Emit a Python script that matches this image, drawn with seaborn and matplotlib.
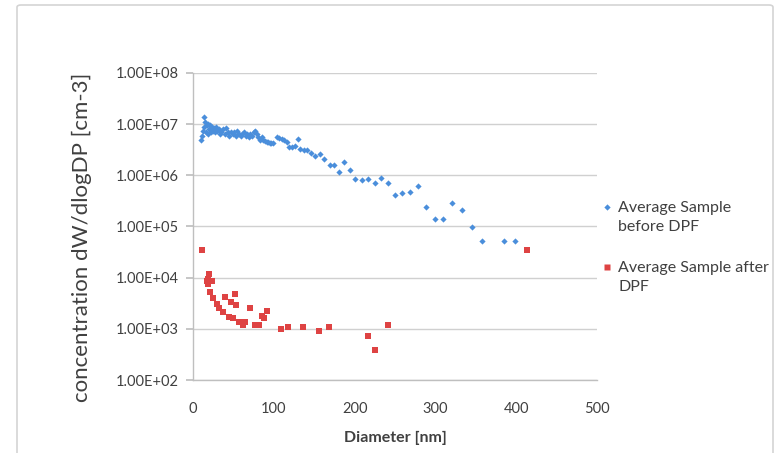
import numpy as np
import pandas as pd
import matplotlib
matplotlib.use("Agg")
import matplotlib.pyplot as plt
import seaborn as sns
from matplotlib.patches import FancyBboxPatch
from matplotlib.ticker import FuncFormatter, FixedLocator
from matplotlib.lines import Line2D

before_x = [10, 11, 12, 13, 14, 15, 16, 17, 18, 19, 20, 21, 22, 23, 24, 25, 26, 27, 28, 30,
            32, 33, 35, 37, 39, 41, 43, 45, 47, 49, 51, 53, 55, 57, 59, 61, 63, 65, 67, 69,
            71, 73, 75, 77, 79, 81, 83, 85, 87, 89, 91, 93, 95, 97, 99, 104, 107, 110, 113, 116,
            119, 122, 126, 130, 133, 137, 141, 146, 151, 157, 162, 169, 174, 181, 187, 194, 201, 209, 217, 225,
            233, 241, 250, 259, 269, 278, 288, 299, 310, 321, 333, 345, 358, 385, 399]
before_y = [5.0e6, 6.0e6, 7.5e6, 9.0e6, 1.4e7, 1.1e7, 7.0e6, 9.5e6, 6.5e6, 1.0e7, 8.0e6, 9.5e6, 7.0e6, 8.5e6, 9.0e6, 7.5e6, 8.5e6, 7.0e6, 9.0e6, 7.5e6,
            8.0e6, 6.5e6, 7.0e6, 8.0e6, 6.5e6, 8.5e6, 7.0e6, 6.0e6, 7.0e6, 6.5e6, 7.0e6, 6.0e6, 7.5e6, 6.5e6, 6.0e6, 6.5e6, 7.0e6, 6.0e6, 6.5e6, 5.5e6,
            6.5e6, 6.0e6, 7.0e6, 7.5e6, 6.5e6, 5.5e6, 5.0e6, 5.5e6, 4.8e6, 4.6e6, 4.5e6, 4.4e6, 4.3e6, 4.2e6, 4.2e6, 5.6e6, 5.3e6, 5.1e6, 4.8e6, 4.5e6,
            3.6e6, 3.5e6, 3.7e6, 5.2e6, 3.2e6, 3.1e6, 3.1e6, 2.7e6, 2.4e6, 2.6e6, 2.1e6, 1.6e6, 1.6e6, 1.16e6, 1.8e6, 1.3e6, 8.5e5, 8.0e5, 8.6e5, 7.2e5,
            9.0e5, 7.0e5, 4.2e5, 4.5e5, 4.7e5, 6.2e5, 2.4e5, 1.4e5, 1.4e5, 2.9e5, 2.1e5, 9.9e4, 5.1e4, 5.3e4, 5.3e4]

after_x = [11.5, 17, 18, 19, 20, 21, 23.5, 24.3, 29.3, 32.6, 37.5, 40, 44, 46.6, 49, 51.5, 53.6, 57.3,
           61.5, 64.4, 70.5, 76.7, 81.7, 85, 88.3, 91.2, 109, 118, 136.5, 156, 168, 217, 225, 241, 413.7]
after_y = [3.4e4, 8.7e3, 7.6e3, 9.5e3, 1.17e4, 5.3e3, 8.7e3, 4.0e3, 3.0e3, 2.55e3, 2.1e3, 4.1e3, 1.73e3, 3.3e3, 1.6e3, 4.7e3, 2.9e3, 1.38e3,
           1.2e3, 1.36e3, 2.57e3, 1.2e3, 1.18e3, 1.8e3, 1.6e3, 2.25e3, 9.9e2, 1.07e3, 1.07e3, 8.9e2, 1.07e3, 7.1e2, 3.9e2, 1.2e3, 3.5e4]

series_names = ["Average Sample\nbefore DPF", "Average Sample after\nDPF"]
x_ticks = [0, 100, 200, 300, 400, 500]
y_ticks = [1e2, 1e3, 1e4, 1e5, 1e6, 1e7, 1e8]

df = pd.concat([
    pd.DataFrame({"Diameter": before_x, "conc": before_y, "series": series_names[0]}),
    pd.DataFrame({"Diameter": after_x, "conc": after_y, "series": series_names[1]}),
])

sns.set_theme(style="white")
plt.rcParams["font.family"] = ["Lato", "DejaVu Sans"]

blue = "#4a8edb"
red = "#de4343"
text_col = "#404040"
grid_col = "#d0d0d0"

W, H = 783, 453
fig = plt.figure(figsize=(W / 100, H / 100), dpi=100)
ax = fig.add_axes([193 / W, 1 - 380 / H, 404 / W, 307 / H])

sns.scatterplot(data=df[df.series == series_names[0]], x="Diameter", y="conc", ax=ax,
                color=blue, marker="D", s=10, linewidth=0, legend=False)
sns.scatterplot(data=df[df.series == series_names[1]], x="Diameter", y="conc", ax=ax,
                color=red, marker="s", s=13, linewidth=0, legend=False)

ax.set_yscale("log")
ax.set_xlim(0, 500)
ax.set_ylim(1e2, 1e8)
ax.xaxis.set_major_locator(FixedLocator(x_ticks))
ax.yaxis.set_major_locator(FixedLocator(y_ticks))
ax.yaxis.set_minor_locator(FixedLocator([]))
ax.yaxis.set_major_formatter(FuncFormatter(lambda v, p: f"{v:.2E}"))
ax.grid(axis="y", color=grid_col, linewidth=1.0)
ax.grid(axis="x", visible=False)
ax.set_axisbelow(True)

for s in ["top", "right"]:
    ax.spines[s].set_visible(False)
for s in ["left", "bottom"]:
    ax.spines[s].set_color("#bfbfbf")
    ax.spines[s].set_linewidth(1.0)

ax.tick_params(axis="y", which="major", direction="out", length=5, color="#bfbfbf",
               labelsize=10.5, labelcolor=text_col, pad=5, left=True)
ax.tick_params(axis="x", which="major", direction="out", length=0, color="#bfbfbf",
               labelsize=10.5, labelcolor=text_col, pad=16)

ax.set_xlabel("Diameter [nm]", fontsize=11.5, fontweight="bold", color=text_col)
ax.set_ylabel("concentration dW/dlogDP [cm-3]", fontsize=16, color=text_col)
ax.xaxis.set_label_coords(0.5, -0.165)
ax.yaxis.set_label_coords(-0.25, 0.465)

# legend, drawn manually so the markers line up with the first text line
leg_items = [(blue, "D", 3.2, 206.5, 217.5), (red, "s", 3.8, 266.5, 277.5)]
for (col, mk, ms, my, ty), name in zip(leg_items, series_names):
    fig.add_artist(Line2D([607 / W], [1 - my / H], marker=mk, color="none",
                          markerfacecolor=col, markeredgecolor="none", markersize=ms,
                          transform=fig.transFigure))
    fig.text(618 / W, 1 - ty / H, name, ha="left", va="center", fontsize=11.5,
             color=text_col, linespacing=1.45)

frame = FancyBboxPatch((17 / W, -0.05), (773 - 17) / W, 1.05 - 5 / H,
                       boxstyle="round,pad=0,rounding_size=0.005",
                       transform=fig.transFigure, facecolor="none", edgecolor="#d4d4d4",
                       linewidth=1.2, zorder=-1)
fig.patches.append(frame)

fig.savefig("out.png", dpi=100)
